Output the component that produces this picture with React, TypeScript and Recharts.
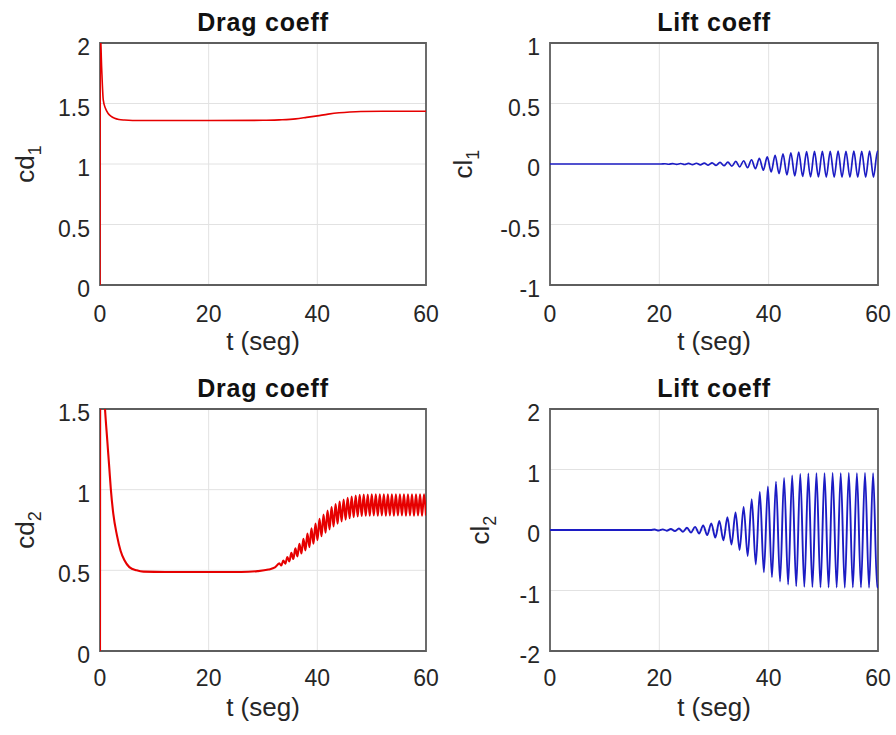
import React from 'react';
import { LineChart, Line, XAxis, YAxis, CartesianGrid, ReferenceArea, Label } from 'recharts';

const FONT = '"Liberation Sans", Arial, Helvetica, sans-serif';
const INK = '#262626';
const RED = '#e60000';
const BLUE = '#1c1cc4';

const timeTicks = [0, 20, 40, 60];

// cd1: start-up transient then a slow drift up after t = 35
const cd1Time = [0, 0.05, 0.3, 0.6, 1.0, 1.5, 2.0, 2.7, 3.5, 4.5, 6, 10, 20, 30, 33, 36, 38, 40, 42, 44, 46, 48, 52, 56, 60];
const cd1Value = [0, 2.1, 1.8, 1.53, 1.46, 1.418, 1.396, 1.378, 1.368, 1.363, 1.36, 1.36, 1.36, 1.361, 1.365, 1.373, 1.385, 1.398, 1.412, 1.423, 1.43, 1.434, 1.436, 1.436, 1.436];

// cl1: peaks and troughs of the shedding oscillation
const cl1Time = [
  0, 20.3,
  21.02, 21.74, 22.46, 23.18, 23.9, 24.62, 25.34, 26.06, 26.78, 27.5, 28.22, 28.94, 29.66, 30.38,
  31.1, 31.82, 32.54, 33.26, 33.98, 34.7, 35.42, 36.14, 36.86, 37.58, 38.3, 39.02, 39.74, 40.46,
  41.18, 41.9, 42.62, 43.34, 44.06, 44.78, 45.5, 46.22, 46.94, 47.66, 48.38, 49.1, 49.82, 50.54,
  51.26, 51.98, 52.7, 53.42, 54.14, 54.86, 55.58, 56.3, 57.02, 57.74, 58.46, 59.18, 59.9, 60,
];
const cl1Value = [
  0, 0,
  0.002, -0.002, 0.003, -0.003, 0.004, -0.004, 0.005, -0.005, 0.006, -0.007, 0.008, -0.009, 0.01, -0.011,
  0.013, -0.014, 0.016, -0.018, 0.021, -0.023, 0.027, -0.03, 0.035, -0.039, 0.046, -0.051, 0.059, -0.065,
  0.072, -0.079, 0.084, -0.09, 0.093, -0.098, 0.099, -0.103, 0.102, -0.106, 0.104, -0.107, 0.105, -0.108,
  0.105, -0.108, 0.106, -0.108, 0.105, -0.108, 0.106, -0.108, 0.105, -0.108, 0.106, -0.108, 0.105, 0.1,
];

// cd2: transient, plateau at 0.49, then the rise into the oscillating band
const cd2Time = [
  0, 0.05, 0.5, 0.92, 1.35, 1.72, 2.0, 2.45, 3.1, 3.8, 4.5, 5.4, 6.75, 8, 12, 20, 26, 29, 31, 32.2,
  33, 33.37, 33.74, 34.11, 34.48, 34.85, 35.22, 35.59, 35.96, 36.33, 36.7, 37.07, 37.44, 37.81,
  38.18, 38.55, 38.92, 39.29, 39.66, 40.03, 40.4, 40.77, 41.14, 41.51, 41.88, 42.25, 42.62, 42.99,
  43.36, 43.73, 44.1, 44.47, 44.84, 45.21, 45.58, 45.95, 46.32, 46.69, 47.06, 47.43, 47.8, 48.17,
  48.54, 48.91, 49.28, 49.65, 50.02, 50.39, 50.76, 51.13, 51.5, 51.87, 52.24, 52.61, 52.98, 53.35,
  53.72, 54.09, 54.46, 54.83, 55.2, 55.57, 55.94, 56.31, 56.68, 57.05, 57.42, 57.79, 58.16, 58.53,
  58.9, 59.27, 59.64, 60,
];
const cd2Value = [
  0, 2.0, 1.75, 1.5, 1.3, 1.13, 1.0, 0.85, 0.72, 0.62, 0.562, 0.52, 0.5, 0.492, 0.49, 0.49, 0.49, 0.495, 0.505, 0.518,
  0.543, 0.53, 0.56, 0.541, 0.583, 0.555, 0.608, 0.57, 0.636, 0.586, 0.665, 0.604, 0.696, 0.624,
  0.728, 0.644, 0.76, 0.665, 0.79, 0.687, 0.819, 0.711, 0.846, 0.733, 0.871, 0.754, 0.893, 0.772,
  0.911, 0.789, 0.926, 0.803, 0.939, 0.814, 0.949, 0.823, 0.957, 0.83, 0.964, 0.834, 0.968, 0.837,
  0.969, 0.838, 0.97, 0.839, 0.971, 0.84, 0.971, 0.839, 0.972, 0.84, 0.971, 0.839, 0.972, 0.84,
  0.972, 0.839, 0.971, 0.84, 0.972, 0.84, 0.971, 0.839, 0.972, 0.84, 0.972, 0.839, 0.971, 0.84,
  0.972, 0.839, 0.971, 0.84,
];

// cl2: growing oscillation saturating near +/-0.95
const cl2Time = [
  0, 18.4,
  19.14, 19.88, 20.62, 21.36, 22.1, 22.84, 23.58, 24.32, 25.06, 25.8, 26.54, 27.28, 28.02, 28.76,
  29.5, 30.24, 30.98, 31.72, 32.46, 33.2, 33.94, 34.68, 35.42, 36.16, 36.9, 37.64, 38.38, 39.12,
  39.86, 40.6, 41.34, 42.08, 42.82, 43.56, 44.3, 45.04, 45.78, 46.52, 47.26, 48.0, 48.74, 49.48,
  50.22, 50.96, 51.7, 52.44, 53.18, 53.92, 54.66, 55.4, 56.14, 56.88, 57.62, 58.36, 59.1, 59.84, 60,
];
const cl2Value = [
  0, 0,
  0.008, -0.009, 0.011, -0.012, 0.016, -0.018, 0.024, -0.028, 0.036, -0.041, 0.052, -0.058, 0.075, -0.085,
  0.11, -0.125, 0.15, -0.17, 0.21, -0.24, 0.29, -0.33, 0.38, -0.43, 0.51, -0.57, 0.63, -0.7,
  0.72, -0.78, 0.8, -0.85, 0.86, -0.9, 0.9, -0.93, 0.925, -0.94, 0.935, -0.945, 0.94, -0.95,
  0.94, -0.95, 0.945, -0.95, 0.94, -0.955, 0.945, -0.95, 0.94, -0.95, 0.945, -0.955, 0.94, -0.95, -0.9,
];

type PanelProps = {
  left: number;
  top: number;
  height: number;
  marginTop: number;
  marginRight: number;
  yAxisWidth: number;
  xAxisHeight: number;
  xTickDrop: number;
  title: string;
  yName: string;
  ySub: string;
  yLabelX: number;
  domain: [number, number];
  yTicks: number[];
  time: number[];
  value: number[];
  color: string;
  lineWidth: number;
};

const WIDTH = 448;

function Panel(p: PanelProps) {
  const data = p.time.map((t, i) => ({ t, v: p.value[i] }));
  const plotLeft = p.yAxisWidth;
  const plotRight = WIDTH - p.marginRight;
  const plotTop = p.marginTop;
  const plotBottom = p.height - p.xAxisHeight;
  const cx = (plotLeft + plotRight) / 2;
  const cy = (plotTop + plotBottom) / 2;

  const xTick = (props: any) => (
    <text x={props.x} y={plotBottom + p.xTickDrop} textAnchor="middle" fontSize={23} fill={INK} fontFamily={FONT}>
      {props.payload.value}
    </text>
  );
  const yTick = (props: any) => (
    <text x={plotLeft - 10} y={props.y + 12} textAnchor="end" fontSize={23} fill={INK} fontFamily={FONT}>
      {props.payload.value}
    </text>
  );

  return (
    <div style={{ position: 'absolute', left: p.left, top: p.top }}>
      <LineChart
        width={WIDTH}
        height={p.height}
        data={data}
        margin={{ top: p.marginTop, right: p.marginRight, bottom: 0, left: 0 }}
      >
        <CartesianGrid stroke="#e2e2e2" />
        <ReferenceArea x1={0} x2={60} y1={p.domain[0]} y2={p.domain[1]} fill="none" stroke="#5e5e5e" strokeWidth={1.8} />
        <XAxis
          type="number"
          dataKey="t"
          domain={[0, 60]}
          ticks={timeTicks}
          interval={0}
          allowDataOverflow
          height={p.xAxisHeight}
          axisLine={false}
          tickLine={false}
          tick={xTick}
        >
          <Label
            content={() => (
              <text x={cx} y={plotBottom + 65} textAnchor="middle" fontSize={26} fill={INK} fontFamily={FONT}>
                t (seg)
              </text>
            )}
          />
        </XAxis>
        <YAxis
          type="number"
          domain={p.domain}
          ticks={p.yTicks}
          interval={0}
          allowDataOverflow
          width={p.yAxisWidth}
          axisLine={false}
          tickLine={false}
          tick={yTick}
        >
          <Label
            content={() => (
              <text
                x={p.yLabelX}
                y={cy}
                transform={`rotate(-90 ${p.yLabelX} ${cy})`}
                textAnchor="middle"
                fontSize={26}
                fill={INK}
                fontFamily={FONT}
              >
                {p.yName}
                <tspan fontSize={18} dy={7}>{p.ySub}</tspan>
              </text>
            )}
          />
          <Label
            content={() => (
              <text
                x={cx}
                y={plotTop - 12}
                textAnchor="middle"
                fontSize={25}
                fontWeight="bold"
                letterSpacing={0.8}
                fill="#111"
                fontFamily={FONT}
              >
                {p.title}
              </text>
            )}
          />
        </YAxis>
        <Line
          type="monotone"
          dataKey="v"
          stroke={p.color}
          strokeWidth={p.lineWidth}
          dot={false}
          isAnimationActive={false}
        />
      </LineChart>
    </div>
  );
}

export default function App() {
  return (
    <div style={{ position: 'absolute', left: 0, top: 0, width: 896, height: 735, background: '#fff' }}>
      <Panel
        left={0} top={0} height={367} marginTop={43} marginRight={22} yAxisWidth={100} xAxisHeight={82} xTickDrop={37}
        title="Drag coeff" yName="cd" ySub="1" yLabelX={34}
        domain={[0, 2]} yTicks={[0, 0.5, 1, 1.5, 2]}
        time={cd1Time} value={cd1Value} color={RED} lineWidth={1.6}
      />
      <Panel
        left={448} top={0} height={367} marginTop={43} marginRight={18} yAxisWidth={102} xAxisHeight={82} xTickDrop={37}
        title="Lift coeff" yName="cl" ySub="1" yLabelX={24}
        domain={[-1, 1]} yTicks={[-1, -0.5, 0, 0.5, 1]}
        time={cl1Time} value={cl1Value} color={BLUE} lineWidth={1.7}
      />
      <Panel
        left={0} top={367} height={368} marginTop={42} marginRight={22} yAxisWidth={100} xAxisHeight={84} xTickDrop={35}
        title="Drag coeff" yName="cd" ySub="2" yLabelX={34}
        domain={[0, 1.5]} yTicks={[0, 0.5, 1, 1.5]}
        time={cd2Time} value={cd2Value} color={RED} lineWidth={2.1}
      />
      <Panel
        left={448} top={367} height={368} marginTop={42} marginRight={18} yAxisWidth={102} xAxisHeight={84} xTickDrop={35}
        title="Lift coeff" yName="cl" ySub="2" yLabelX={41}
        domain={[-2, 2]} yTicks={[-2, -1, 0, 1, 2]}
        time={cl2Time} value={cl2Value} color={BLUE} lineWidth={1.9}
      />
    </div>
  );
}
